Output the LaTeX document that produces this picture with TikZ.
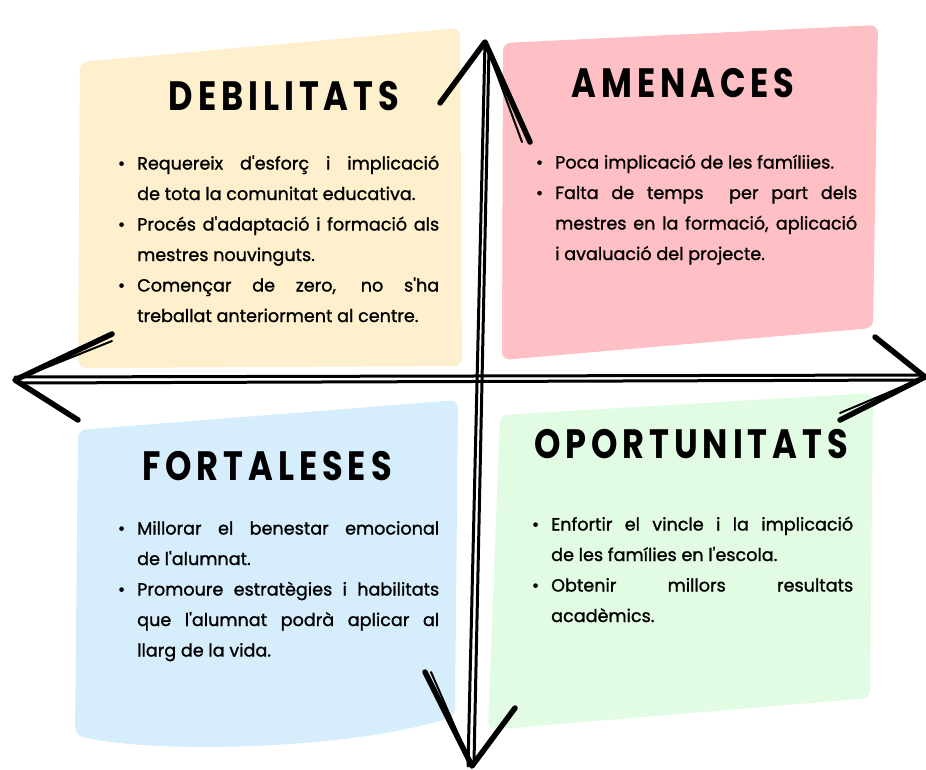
\documentclass[tikz,border=0pt]{standalone}
\usepackage{fontspec}
\usepackage{enumitem}
\newfontfamily\bodyfont{Poppins}[FakeBold=1.2]
\newfontfamily\titlefont{Poppins}[FakeStretch=0.82, LetterSpace=12]
\setlist[itemize]{label=\textbullet, leftmargin=19pt, labelsep=12pt, itemsep=0pt, topsep=0pt, parsep=0pt, partopsep=0pt}
\definecolor{debilcol}{RGB}{254,240,204}
\definecolor{amenacol}{RGB}{254,192,196}
\definecolor{fortcol}{RGB}{214,237,252}
\definecolor{oporcol}{RGB}{225,252,226}

\begin{document}
\begin{tikzpicture}[x=1pt, y=-1pt, line cap=round, line join=round,
  title/.style={font=\titlefont\bfseries\fontsize{41}{41}\selectfont, anchor=base, inner sep=0pt},
  body/.style={font=\bodyfont\fontsize{17.6}{30.5}\selectfont, text width=321pt, align=justify, anchor=base west, inner sep=0pt},
  stroke/.style={line width=3pt},
  arm/.style={line width=5.5pt}]
\useasboundingbox (0,0) rectangle (926,769);
\fill[debilcol, rounded corners=8] (80,62) -- (460,28) -- (462,366) -- (78,368) -- cycle;
\fill[amenacol, rounded corners=8] (503,43) -- (878,25) -- (873,328) -- (502,360) -- cycle;
\fill[fortcol, rounded corners=8] (78,430) -- (458,400) -- (455,716) .. controls (350,750) and (150,754) .. (75,735) -- cycle;
\fill[oporcol, rounded corners=8] (500,415) -- (873,393) -- (870,698) -- (488,730) -- cycle;

\path (284,110) node[title] (debil) {DEBILITATS};
\path (683,97) node[title] (amena) {AMENACES};
\path (267,480) node[title] (fort) {FORTALESES};
\path (691,458) node[title] (opor) {OPORTUNITATS};

\path (118,139) node[body] (debiltext) {\begin{itemize}
\item Requereix d'esforç i implicació\linebreak de tota la comunitat educativa.
\item Procés d'adaptació i formació als\linebreak mestres nouvinguts.
\item Començar de zero, no s'ha\linebreak treballat anteriorment al centre.
\end{itemize}};
\path (536,138) node[body] (amenatext) {\begin{itemize}
\item Poca implicació de les famíliies.
\item Falta de temps~\ per part dels\linebreak mestres en la formació, aplicació\linebreak i avaluació del projecte.
\end{itemize}};
\path (118,504) node[body] (forttext) {\begin{itemize}
\item Millorar el benestar emocional\linebreak de l'alumnat.
\item Promoure estratègies i habilitats\linebreak que l'alumnat podrà aplicar al\linebreak llarg de la vida.
\end{itemize}};
\path (532,500) node[body] (portext) {\begin{itemize}
\item Enfortir el vincle i la implicació\linebreak de les famílies en l'escola.
\item Obtenir millors resultats\linebreak acadèmics.
\end{itemize}};

\coordinate (up) at (485,42);
\coordinate (down) at (472,766);
\coordinate (left) at (15,380);
\coordinate (right) at (925,377);
\coordinate (upl) at (440,103);
\coordinate (upr) at (530,142);
\coordinate (downl) at (425,672);
\coordinate (downr) at (515,708);
\coordinate (leftu) at (112,334);
\coordinate (leftd) at (78,420);
\coordinate (rightu) at (875,337);
\coordinate (rightd) at (840,420);

\draw[stroke] (up) -- ([xshift=-4]down) ([xshift=4,yshift=-6]up) -- ([xshift=2,yshift=4]down);
\draw[stroke] ([yshift=3]left) -- ([yshift=2]right) ([xshift=4,yshift=-3]left) -- ([xshift=-4,yshift=-3]right);
\draw[arm] (upl) -- (up) -- (upr);
\draw[stroke, line width=2pt] (up) -- ([xshift=-8]upr);
\draw[arm] (downl) -- (down) -- (downr);
\draw[stroke, line width=2pt] ([xshift=6]downl) -- (down);
\draw[arm] (leftu) -- (left) -- (leftd);
\draw[stroke, line width=2pt] (left) -- ([yshift=-7]leftu);
\draw[arm] (rightu) -- (right) -- (rightd);
\draw[stroke, line width=2pt] (right) -- ([yshift=7]rightd);
\end{tikzpicture}
\end{document}
